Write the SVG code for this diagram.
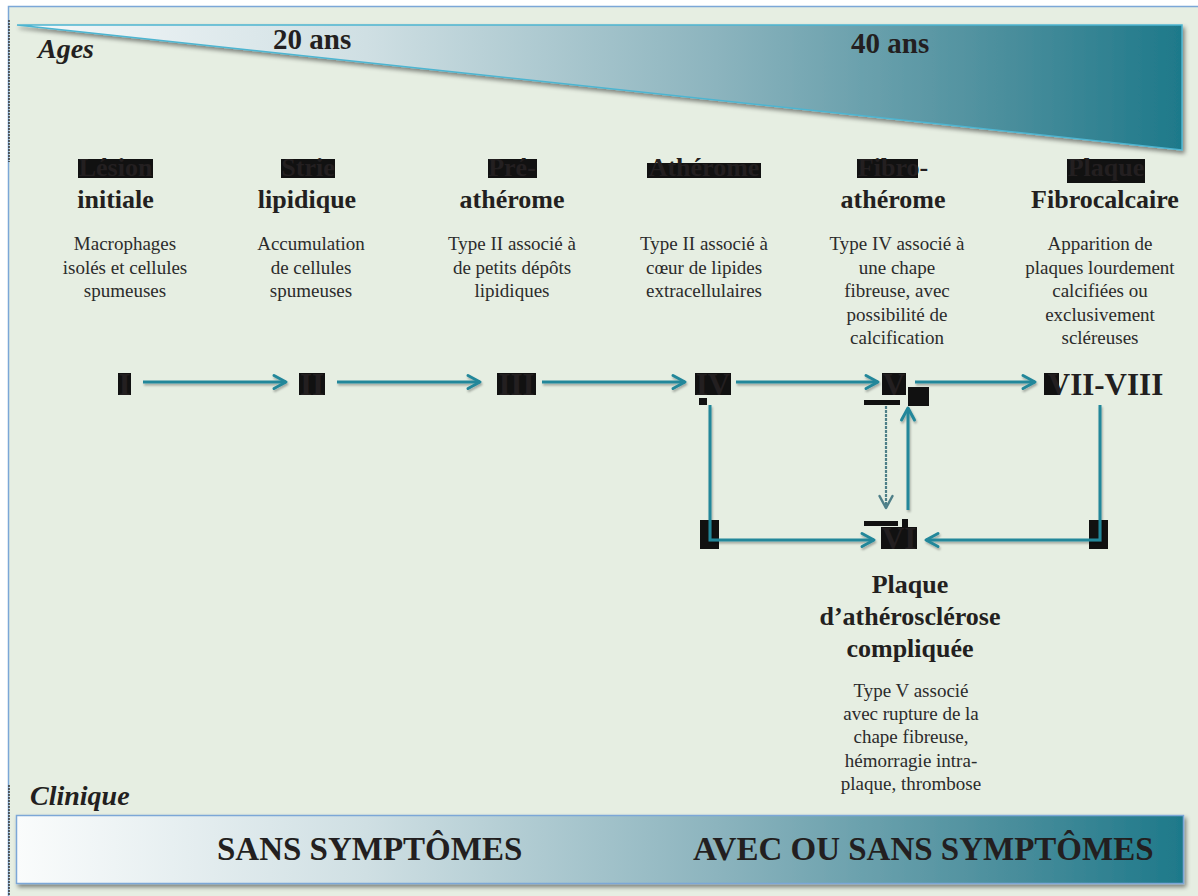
<svg xmlns="http://www.w3.org/2000/svg" width="1198" height="896" viewBox="0 0 1198 896">
<defs>
<linearGradient id="gAges" gradientUnits="userSpaceOnUse" x1="17" y1="0" x2="1182" y2="0">
<stop offset="0" stop-color="#F6F9FA"/>
<stop offset="0.3" stop-color="#CFDFE3"/>
<stop offset="0.6" stop-color="#8CB4BE"/>
<stop offset="0.85" stop-color="#4A8E9C"/>
<stop offset="1" stop-color="#1E798A"/>
</linearGradient>
<linearGradient id="gBand" gradientUnits="userSpaceOnUse" x1="17" y1="0" x2="1183" y2="0">
<stop offset="0" stop-color="#FAFCFC"/>
<stop offset="0.3" stop-color="#CFDFE3"/>
<stop offset="0.6" stop-color="#8CB4BE"/>
<stop offset="0.85" stop-color="#4A8E9C"/>
<stop offset="1" stop-color="#1E798A"/>
</linearGradient>
<filter id="shadow" x="-5%" y="-20%" width="110%" height="150%">
<feDropShadow dx="2" dy="3" stdDeviation="2" flood-color="#000" flood-opacity="0.45"/>
</filter>
<filter id="lshadow" filterUnits="userSpaceOnUse" x="0" y="0" width="1198" height="896">
<feDropShadow dx="1" dy="2" stdDeviation="1" flood-color="#000" flood-opacity="0.3"/>
</filter>
<marker id="arr" markerUnits="userSpaceOnUse" markerWidth="18" markerHeight="18" viewBox="0 0 18 18" refX="15" refY="9" orient="auto">
<path d="M3,2.5 L15,9 L3,15.5" fill="none" stroke="#23879A" stroke-width="3" stroke-linecap="round" stroke-linejoin="round"/>
</marker>
<marker id="arrd" markerUnits="userSpaceOnUse" markerWidth="18" markerHeight="18" viewBox="0 0 18 18" refX="15" refY="9" orient="auto">
<path d="M3,2.5 L15,9 L3,15.5" fill="none" stroke="#4E7F88" stroke-width="2.5" stroke-linecap="round" stroke-linejoin="round"/>
</marker>
</defs>
<style>
.ttl{font-family:"Liberation Serif","Times New Roman",serif;font-weight:bold;font-size:26px;fill:#231F20;text-anchor:middle}
.dsc{font-family:"Liberation Serif","Times New Roman",serif;font-size:19px;fill:#2B2B2B;text-anchor:middle}
.num{font-family:"Liberation Serif","Times New Roman",serif;font-weight:bold;font-size:31px;fill:#231F20;text-anchor:middle}
.lbl{font-family:"Liberation Serif","Times New Roman",serif;font-weight:bold;font-style:italic;font-size:28px;fill:#231F20}
.age{font-family:"Liberation Serif","Times New Roman",serif;font-weight:bold;font-size:29px;fill:#231F20}
.band{font-family:"Liberation Serif","Times New Roman",serif;font-weight:bold;font-size:33px;fill:#231F20}
.blk{fill:#111111}
.con{fill:none;stroke:#23879A;stroke-width:3;filter:url(#lshadow)}
</style>
<rect x="0" y="0" width="1198" height="896" fill="#FFFFFF"/>
<rect x="8.5" y="6.5" width="1195" height="895" fill="#E6EEE2" stroke="#7BA7D7" stroke-width="1.5"/>
<line x1="9" y1="20" x2="9" y2="162" stroke="#3A3A3A" stroke-width="1.5" stroke-dasharray="2 1"/>
<line x1="9" y1="785" x2="9" y2="896" stroke="#3A3A3A" stroke-width="1.5" stroke-dasharray="2 1"/>

<g id="ages">
<polygon points="17,25 1182,25 1182,150" fill="url(#gAges)" stroke="#4DB5D1" stroke-width="1.5" filter="url(#shadow)"/>
<text class="lbl" x="38" y="58">Ages</text>
<text class="age" x="273" y="49">20 ans</text>
<text class="age" x="851" y="53">40 ans</text>
</g>

<g id="stage-I">
<rect class="blk" x="78" y="159" width="75" height="19"/>
<text class="ttl" x="115.5" y="176">Lésion</text>
<text class="ttl" x="115.5" y="208">initiale</text>
<text class="dsc" x="125" y="250">Macrophages</text>
<text class="dsc" x="125" y="273.5">isolés et cellules</text>
<text class="dsc" x="125" y="297">spumeuses</text>
<rect class="blk" x="118" y="373" width="13" height="22"/>
<text class="num" x="124.5" y="395">I</text>
</g>

<g id="stage-II">
<rect class="blk" x="281" y="159" width="54" height="19"/>
<text class="ttl" x="308" y="176">Strie</text>
<text class="ttl" x="307" y="208">lipidique</text>
<text class="dsc" x="311" y="250">Accumulation</text>
<text class="dsc" x="311" y="273.5">de cellules</text>
<text class="dsc" x="311" y="297">spumeuses</text>
<rect class="blk" x="299" y="373" width="26" height="22"/>
<text class="num" x="312" y="395">II</text>
</g>

<g id="stage-III">
<rect class="blk" x="488" y="159" width="49" height="19"/>
<text class="ttl" x="512" y="176">Pré-</text>
<text class="ttl" x="512" y="208">athérome</text>
<text class="dsc" x="512" y="250">Type II associé à</text>
<text class="dsc" x="512" y="273.5">de petits dépôts</text>
<text class="dsc" x="512" y="297">lipidiques</text>
<rect class="blk" x="497" y="373" width="39" height="22"/>
<text class="num" x="516.5" y="395">III</text>
</g>

<g id="stage-IV">
<rect class="blk" x="647" y="163" width="114" height="15"/>
<text class="ttl" x="704" y="176">Athérome</text>
<text class="dsc" x="704" y="250">Type II associé à</text>
<text class="dsc" x="704" y="273.5">cœur de lipides</text>
<text class="dsc" x="704" y="297">extracellulaires</text>
<rect class="blk" x="695" y="373" width="36" height="22"/>
<rect class="blk" x="699" y="398" width="8" height="7"/>
<text class="num" x="713" y="395">IV</text>
</g>

<g id="stage-V">
<rect class="blk" x="857" y="159" width="61" height="19"/>
<text class="ttl" x="893" y="176">Fibro-</text>
<text class="ttl" x="893" y="208">athérome</text>
<text class="dsc" x="897" y="250">Type IV associé à</text>
<text class="dsc" x="897" y="273.5">une chape</text>
<text class="dsc" x="897" y="297">fibreuse, avec</text>
<text class="dsc" x="897" y="320.5">possibilité de</text>
<text class="dsc" x="897" y="344">calcification</text>
<rect class="blk" x="882" y="373" width="24" height="22"/>
<rect class="blk" x="864" y="400" width="36" height="5"/>
<rect class="blk" x="908" y="387" width="21" height="19"/>
<text class="num" x="894" y="395">V</text>
</g>

<g id="stage-VII-VIII">
<rect class="blk" x="1067" y="159" width="78" height="24"/>
<text class="ttl" x="1106" y="176">Plaque</text>
<text class="ttl" x="1105" y="208">Fibrocalcaire</text>
<text class="dsc" x="1100" y="250">Apparition de</text>
<text class="dsc" x="1100" y="273.5">plaques lourdement</text>
<text class="dsc" x="1100" y="297">calcifiées ou</text>
<text class="dsc" x="1100" y="320.5">exclusivement</text>
<text class="dsc" x="1100" y="344">scléreuses</text>
<rect class="blk" x="1044" y="373" width="15" height="22"/>
<text class="num" x="1105.5" y="395">VII-VIII</text>
</g>

<g id="stage-VI">
<rect class="blk" x="700" y="520" width="19" height="29"/>
<rect class="blk" x="1089" y="520" width="19" height="29"/>
<rect class="blk" x="864" y="521" width="34" height="5"/>
<rect class="blk" x="902" y="519" width="6" height="8"/>
<rect class="blk" x="881" y="527" width="36" height="22"/>
<text class="num" x="899" y="549">VI</text>
<text class="ttl" x="910" y="593">Plaque</text>
<text class="ttl" x="910" y="625">d’athérosclérose</text>
<text class="ttl" x="910" y="657">compliquée</text>
<text class="dsc" x="911" y="697">Type V associé</text>
<text class="dsc" x="911" y="720">avec rupture de la</text>
<text class="dsc" x="911" y="743">chape fibreuse,</text>
<text class="dsc" x="911" y="766.5">hémorragie intra-</text>
<text class="dsc" x="911" y="790">plaque, thrombose</text>
</g>

<g id="connectors">
<line class="con" x1="143" y1="382" x2="286" y2="382" marker-end="url(#arr)"/>
<line class="con" x1="337" y1="382" x2="480" y2="382" marker-end="url(#arr)"/>
<line class="con" x1="542" y1="382" x2="685" y2="382" marker-end="url(#arr)"/>
<line class="con" x1="736" y1="382" x2="878" y2="382" marker-end="url(#arr)"/>
<line class="con" x1="915" y1="382" x2="1035" y2="382" marker-end="url(#arr)"/>
<polyline class="con" points="710,405 710,540 874,540" marker-end="url(#arr)"/>
<polyline class="con" points="1100,405 1100,540 926,540" marker-end="url(#arr)"/>
<line x1="886" y1="406" x2="886" y2="508" fill="none" stroke="#4E7F88" stroke-width="2.2" stroke-dasharray="3 1" marker-end="url(#arrd)"/>
<line class="con" x1="908" y1="510" x2="908" y2="408" marker-end="url(#arr)"/>
</g>

<g id="clinique">
<text class="lbl" x="30" y="805">Clinique</text>
<rect x="16.5" y="815.5" width="1167" height="68" fill="url(#gBand)" stroke="#7BA7D7" stroke-width="1.5" filter="url(#shadow)"/>
<text class="band" x="217" y="860">SANS SYMPTÔMES</text>
<text class="band" x="693" y="860">AVEC OU SANS SYMPTÔMES</text>
</g>
</svg>
